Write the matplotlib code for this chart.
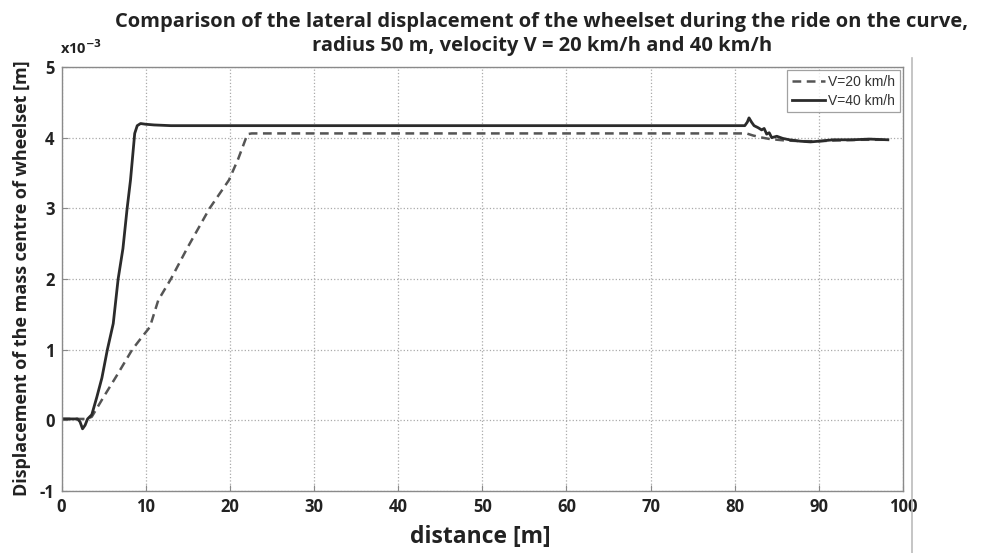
import matplotlib
matplotlib.use("Agg")
import matplotlib.pyplot as plt
from matplotlib.lines import Line2D

plt.rcParams["axes.unicode_minus"] = False

# distance [m] and displacement [x1e-3 m]
v20_x = [0, 2.0, 3.0, 3.6, 5.0, 6.5, 8.4, 9.5, 10.5, 11.5, 13.0, 15.0, 17.6, 19.9,
         21.0, 22.1, 22.6, 30, 50, 70, 81.4, 82.2, 83.3, 84.2, 86, 88, 90, 92, 95, 98.2]
v20_y = [0.02, 0.02, 0.02, 0.05, 0.33, 0.62, 1.0, 1.17, 1.32, 1.70, 2.0, 2.45, 3.0, 3.40,
         3.70, 4.05, 4.06, 4.06, 4.06, 4.06, 4.06, 4.03, 4.0, 3.98, 3.96, 3.95, 3.95, 3.96, 3.97, 3.97]

v40_x = [0, 1.9, 2.2, 2.5, 2.8, 3.1, 3.6, 4.2, 4.8, 5.45, 6.15, 6.73, 7.3, 7.8, 8.2,
         8.7, 9.0, 9.4, 10.0, 11, 13, 15, 20, 30, 50, 70, 81.2, 81.5, 81.7, 82.0, 82.3,
         82.8, 83.2, 83.5, 83.8, 84.1, 84.4, 85.0, 85.7, 86.5, 87.8, 89.0, 90.0, 91.7, 94, 96, 98.2]
v40_y = [0.02, 0.02, -0.02, -0.12, -0.07, 0.02, 0.08, 0.33, 0.6, 1.0, 1.37, 2.0, 2.43, 3.0, 3.4,
         4.06, 4.17, 4.2, 4.19, 4.18, 4.17, 4.17, 4.17, 4.17, 4.17, 4.17, 4.17, 4.22, 4.28, 4.22, 4.17,
         4.14, 4.11, 4.13, 4.05, 4.07, 4.0, 4.02, 3.99, 3.97, 3.95, 3.94, 3.95, 3.97, 3.97, 3.98, 3.97]

xticks = [0, 10, 20, 30, 40, 50, 60, 70, 80, 90, 100]
yticks = [-1, 0, 1, 2, 3, 4, 5]

bold_font = "Open Sans"

fig = plt.figure(figsize=(9.84, 5.53), dpi=100)
ax = fig.add_axes([61.5 / 984, 1 - 491 / 553, (903 - 61.5) / 984, (491 - 67) / 553])

ax.plot(v20_x, v20_y, color="#555555", linestyle=(0, (3.5, 2.2)), linewidth=1.8, label="V=20 km/h")
ax.plot(v40_x, v40_y, color="#2b2b2b", linestyle="-", linewidth=2.0, label="V=40 km/h")

ax.set_xlim(0, 100)
ax.set_ylim(-1, 5)
ax.set_xticks(xticks)
ax.set_yticks(yticks)
ax.grid(True, linestyle=":", color="#aaaaaa", linewidth=0.9)
for s in ax.spines.values():
    s.set_color("#8a8a8a")
    s.set_linewidth(1.0)
ax.tick_params(direction="in", color="#8a8a8a", length=4, labelsize=12, pad=5)
for lbl in ax.get_xticklabels() + ax.get_yticklabels():
    lbl.set_fontfamily(bold_font)
    lbl.set_fontweight("bold")
    lbl.set_color("#222222")

leg = ax.legend(loc="upper right", fontsize=10, frameon=True, fancybox=False,
                borderaxespad=0.25, handlelength=2.4, handletextpad=0.2, labelspacing=0.3,
                borderpad=0.35)
leg.get_frame().set_edgecolor("#8a8a8a")
leg.get_frame().set_linewidth(0.9)
for t in leg.get_texts():
    t.set_fontfamily("Liberation Sans")
    t.set_color("#333333")

fig.text(60 / 984, 1 - 48 / 553, r"x10$^{\mathbf{-3}}$", fontsize=10.5, fontweight="bold",
         family=bold_font, ha="left", va="center", color="#222222")

fig.text(542 / 984, 1 - 34 / 553,
         "Comparison of the lateral displacement of the wheelset during the ride on the curve,\n"
         "radius 50 m, velocity V = 20 km/h and 40 km/h",
         ha="center", va="center", fontsize=14.5, fontweight="bold", family=bold_font,
         color="#222222", linespacing=1.2)

fig.text(480 / 984, 1 - 537 / 553, "distance [m]", ha="center", va="center",
         fontsize=16.5, fontweight="bold", family=bold_font, color="#222222")
fig.text(22 / 984, 1 - 278 / 553, "Displacement of the mass centre of wheelset [m]",
         ha="center", va="center", rotation=90, fontsize=13, fontweight="bold",
         family=bold_font, color="#222222")

# faint scan border on the right of the original picture
fig.add_artist(Line2D([912 / 984, 912 / 984], [0, 1 - 58 / 553], color="#bbbbbb", linewidth=1.2))

fig.savefig("out.png", dpi=100)
